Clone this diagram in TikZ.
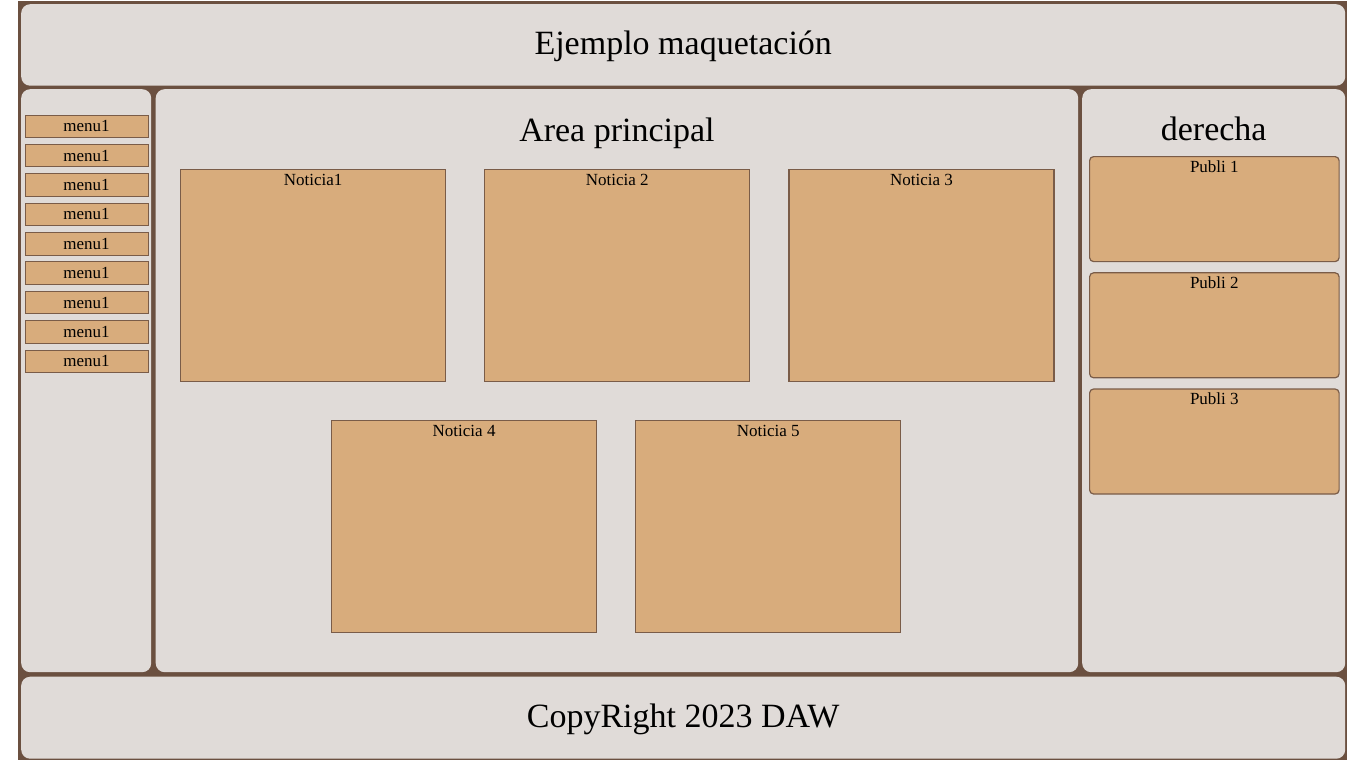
\documentclass[tikz,border=0pt]{standalone}
\usepackage{fontspec}
\setmainfont{Liberation Serif}
\usetikzlibrary{positioning}

\definecolor{marco}{RGB}{107,80,64}
\definecolor{fondo}{RGB}{224,219,216}
\definecolor{caja}{RGB}{216,172,124}
\definecolor{bordecaja}{RGB}{122,92,72}

\tikzset{
  panel/.style={fill=fondo, rounded corners=9pt, anchor=north west, inner sep=0pt},
  titulo/.style={font=\fontsize{34}{40}\selectfont, anchor=base, inner sep=0pt},
  texto/.style={font=\fontsize{17}{20}\selectfont, anchor=base, inner sep=0pt},
  menuitem/.style={fill=caja, draw=bordecaja, line width=1pt, minimum width=123pt,
    minimum height=22.5pt, inner sep=0pt, anchor=north west, font=\fontsize{17}{20}\selectfont},
  noticia/.style={fill=caja, draw=bordecaja, line width=1.2pt, minimum width=265pt,
    minimum height=212pt, inner sep=0pt},
  publi/.style={fill=caja, draw=bordecaja, line width=1.2pt, rounded corners=4pt,
    minimum width=249.5pt, minimum height=105pt, inner sep=0pt}
}

\begin{document}
\begin{tikzpicture}[x=1pt, y=-1pt]
  % Page and frame
  \fill[white] (0,0) rectangle (1367,768);
  \useasboundingbox (0,0) rectangle (1367,768);
  \fill[marco] (18,1) rectangle (1347,760);

  % Panels
  \node[panel, minimum width=1324pt, minimum height=81.5pt] (cabecera) at (21,4) {};
  \node[panel, minimum width=130pt, minimum height=583pt] (menu) at (21,89) {};
  \node[panel, minimum width=922.5pt, minimum height=583pt] (principal) at (155.5,89) {};
  \node[panel, minimum width=263pt, minimum height=583pt] (derecha) at (1082,89) {};
  \node[panel, minimum width=1324pt, minimum height=82pt] (pie) at (21,676.5) {};

  % Titles
  \node[titulo] (tit_cabecera) at ([yshift=-51pt]cabecera.north) {Ejemplo maquetación};
  \node[titulo] (tit_principal) at ([yshift=-52pt]principal.north) {Area principal};
  \node[titulo] (tit_derecha) at ([yshift=-51pt]derecha.north) {derecha};
  \node[titulo] (tit_pie) at ([yshift=-50.5pt]pie.north) {CopyRight 2023 DAW};

  % Menu
  \foreach \i in {0,...,8}
    \node[menuitem] (menu\i) at (24.5, 114.5+29.375*\i) {menu1};

  % Noticias
  \node[noticia, anchor=north west] (not1) at (180,168.5) {};
  \node[noticia, right=38pt of not1] (not2) {};
  \node[noticia, right=38pt of not2] (not3) {};
  \node[noticia, anchor=north west] (not4) at (331,419.5) {};
  \node[noticia, right=38pt of not4] (not5) {};
  \node[texto] at ([yshift=-17pt]not1.north) {Noticia1};
  \node[texto] at ([yshift=-17pt]not2.north) {Noticia 2};
  \node[texto] at ([yshift=-17pt]not3.north) {Noticia 3};
  \node[texto] at ([yshift=-17pt]not4.north) {Noticia 4};
  \node[texto] at ([yshift=-17pt]not5.north) {Noticia 5};

  % Publicidad
  \node[publi, anchor=north west] (publi1) at (1089,156) {};
  \node[publi, below=10pt of publi1] (publi2) {};
  \node[publi, below=10pt of publi2] (publi3) {};
  \foreach \j in {1,2,3}
    \node[texto] at ([yshift=-16.5pt]publi\j.north) {Publi \j};

\end{tikzpicture}
\end{document}
